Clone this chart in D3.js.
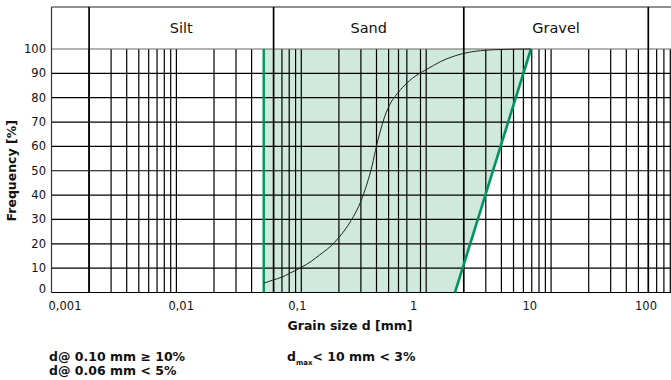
<!DOCTYPE html>
<meta charset="utf-8">
<style>
  body { margin: 0; background: #fff; }
  text { font-family: "DejaVu Sans", sans-serif; fill: #111; }
</style>
<body>
<div id="chart"></div>
<script src="https://cdn.jsdelivr.net/npm/d3@7"></script>
<script>
// grain size distribution curve (mm -> % passing)
var grainSize = [0.05, 0.06, 0.07, 0.08, 0.1, 0.12, 0.14, 0.17, 0.2, 0.25, 0.3, 0.335, 0.37, 0.4, 0.43, 0.46, 0.5, 0.6, 0.7, 0.86, 1.0, 1.3, 2.0, 3.0, 4.0, 6.9];
var passing   = [3.8, 5.2, 6.3, 7.8, 10.3, 12.8, 15.4, 18.8, 22.6, 29.5, 37.5, 44.5, 52.3, 60.2, 66.4, 71.5, 76.2, 82.3, 86, 89.6, 91.5, 94.8, 98.2, 99.5, 99.8, 100];

// permitted envelope (green area)
var envLeft = 0.05;
var envRightSize = [1.7, 6.9];
var envRightPct = [0, 100];

// soil fractions
var fractionNames = ["Silt", "Sand", "Gravel"];
var fractionBounds = [0.002, 0.06, 2, 60];

// log paper grid
var gridLines = [0.002, 0.003, 0.004, 0.005, 0.006, 0.007, 0.008, 0.009,
  0.01, 0.02, 0.03, 0.04, 0.05, 0.07, 0.08, 0.09,
  0.1, 0.2, 0.3, 0.4, 0.5, 0.6, 0.7, 0.9,
  1, 3, 4, 5, 6, 7, 8, 9,
  10, 20, 30, 40, 50, 70, 80, 90];
var xTicks = [0.001, 0.01, 0.1, 1, 10, 100];
var xTickLabels = ["0,001", "0,01", "0,1", "1", "10", "100"];
var yTicks = [0, 10, 20, 30, 40, 50, 60, 70, 80, 90, 100];

var width = 671, height = 380;
var top0 = 7;

var svg = d3.select("#chart").append("svg")
  .attr("width", width)
  .attr("height", height);

var x = d3.scaleLog().domain([0.001, 100]).range([51.5, 676]);
var y = d3.scaleLinear().domain([0, 100]).range([292.5, 49]);
// the printed tick labels sit on their own, slightly compressed log band
var xLabel = d3.scaleLog().domain([0.001, 100]).range([65, 646]);

var green = "#00955f";

// shaded envelope
var env = [[envLeft, 0], [envLeft, 100], [envRightSize[1], envRightPct[1]], [envRightSize[0], envRightPct[0]]];
svg.append("path")
  .attr("d", d3.line().x(function(d) { return x(d[0]); }).y(function(d) { return y(d[1]); })(env) + "Z")
  .attr("fill", "#cfe9dd");

// vertical grid
svg.append("g").selectAll("line")
  .data(gridLines)
  .enter().append("line")
  .attr("x1", function(d) { return x(d); })
  .attr("x2", function(d) { return x(d); })
  .attr("y1", y(100))
  .attr("y2", y(0))
  .attr("stroke", "#000")
  .attr("stroke-width", 1.2);

// horizontal grid
svg.append("g").selectAll("line")
  .data(yTicks)
  .enter().append("line")
  .attr("x1", x(0.001))
  .attr("x2", width)
  .attr("y1", function(d) { return y(d); })
  .attr("y2", function(d) { return y(d); })
  .attr("stroke", function(d) { return d === 100 ? "#666" : "#000"; })
  .attr("stroke-width", 1.2);

// header frame
svg.append("line")
  .attr("x1", x(0.001)).attr("x2", width)
  .attr("y1", top0).attr("y2", top0)
  .attr("stroke", "#222").attr("stroke-width", 1);
svg.append("line")
  .attr("x1", x(0.001)).attr("x2", x(0.001))
  .attr("y1", top0).attr("y2", y(0))
  .attr("stroke", "#333").attr("stroke-width", 1.2);

// fraction boundaries
svg.append("g").selectAll("line")
  .data(fractionBounds)
  .enter().append("line")
  .attr("x1", function(d) { return x(d); })
  .attr("x2", function(d) { return x(d); })
  .attr("y1", top0)
  .attr("y2", y(0))
  .attr("stroke", "#000")
  .attr("stroke-width", 1.7);

svg.append("g").selectAll("text")
  .data(fractionNames)
  .enter().append("text")
  .attr("x", function(d, i) { return (x(fractionBounds[i]) + x(fractionBounds[i + 1])) / 2; })
  .attr("y", (top0 + y(100)) / 2)
  .attr("dy", "0.35em")
  .attr("text-anchor", "middle")
  .style("font-size", "14.5px")
  .text(function(d) { return d; });

// green envelope lines
svg.append("line")
  .attr("x1", x(envLeft)).attr("x2", x(envLeft))
  .attr("y1", y(100)).attr("y2", y(0))
  .attr("stroke", green).attr("stroke-width", 2.4);
svg.append("line")
  .attr("x1", x(envRightSize[0])).attr("x2", x(envRightSize[1]))
  .attr("y1", y(envRightPct[0])).attr("y2", y(envRightPct[1]))
  .attr("stroke", green).attr("stroke-width", 2.6);

// grading curve
var curve = grainSize.map(function(d, i) { return [d, passing[i]]; });
svg.append("path")
  .datum(curve)
  .attr("fill", "none")
  .attr("stroke", "#222")
  .attr("stroke-width", 1)
  .attr("d", d3.line()
    .x(function(d) { return x(d[0]); })
    .y(function(d) { return y(d[1]); })
    .curve(d3.curveMonotoneX));

// y tick labels
svg.append("g").selectAll("text")
  .data(yTicks)
  .enter().append("text")
  .attr("x", 46)
  .attr("y", function(d) { return y(d); })
  .attr("dy", function(d) { return d === 0 ? "0.0em" : "0.35em"; })
  .attr("text-anchor", "end")
  .style("font-size", "11.5px")
  .text(function(d) { return d; });

// x tick labels
svg.append("g").selectAll("text")
  .data(xTicks)
  .enter().append("text")
  .attr("x", function(d) { return xLabel(d); })
  .attr("y", 310)
  .attr("text-anchor", "middle")
  .style("font-size", "11.5px")
  .text(function(d, i) { return xTickLabels[i]; });

// axis titles
svg.append("text")
  .attr("x", 350)
  .attr("y", 330)
  .attr("text-anchor", "middle")
  .style("font-size", "12.5px")
  .style("font-weight", "bold")
  .text("Grain size d [mm]");

svg.append("text")
  .attr("transform", "translate(16," + ((y(0) + y(100)) / 2) + ") rotate(-90)")
  .attr("text-anchor", "middle")
  .style("font-size", "12.5px")
  .style("font-weight", "bold")
  .text("Frequency [%]");

// requirement notes
var notes = svg.append("g").style("font-size", "12.5px").style("font-weight", "bold");
notes.append("text").attr("x", 49).attr("y", 361).text("d@ 0.10 mm \u2265 10%");
notes.append("text").attr("x", 49).attr("y", 375).text("d@ 0.06 mm < 5%");
var dmax = notes.append("text").attr("x", 287).attr("y", 361);
dmax.append("tspan").text("d");
dmax.append("tspan").attr("dy", 4).style("font-size", "7px").text("max");
dmax.append("tspan").attr("dy", -4).text("< 10 mm < 3%");
</script>
</body>
